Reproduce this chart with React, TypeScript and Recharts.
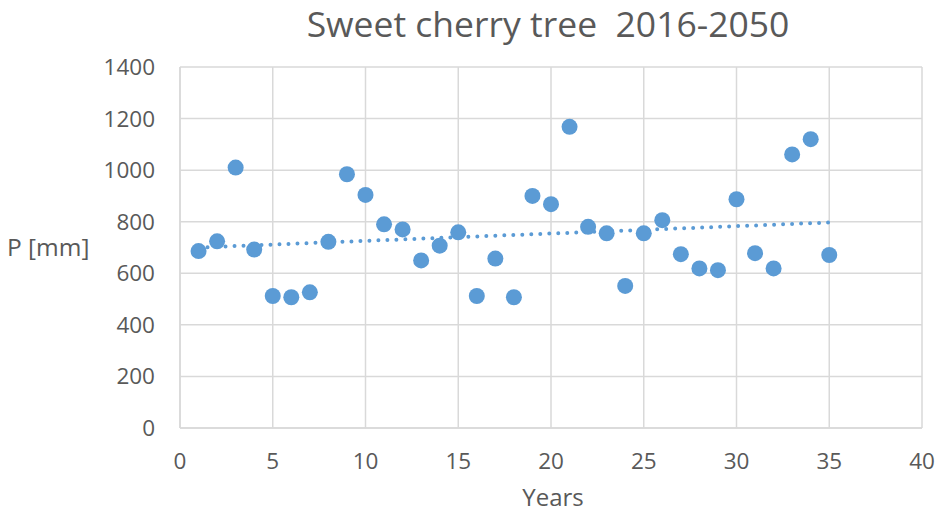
import React from 'react';
import { ScatterChart, Scatter, XAxis, YAxis, CartesianGrid } from 'recharts';

const years: number[] = [1,2,3,4,5,6,7,8,9,10,11,12,13,14,15,16,17,18,19,20,21,22,23,24,25,26,27,28,29,30,31,32,33,34,35];
const precipitation: number[] = [686,724,1010,692,512,507,526,722,984,904,790,770,650,707,759,512,657,507,900,868,1168,780,755,551,755,806,674,619,612,887,678,619,1061,1120,671];
const trendYears: number[] = [1, 35];
const trendValues: number[] = [700, 797];
const xTicks: number[] = [0,5,10,15,20,25,30,35,40];
const yTicks: number[] = [0,200,400,600,800,1000,1200,1400];

const points = years.map((x, i) => ({ x, y: precipitation[i] }));
const trend = trendYears.map((x, i) => ({ x, y: trendValues[i] }));

const BLUE = '#5B9BD5';
const TEXT = '#595959';
const FONT = '"Open Sans", sans-serif';

const Dot = (props: any) => <circle cx={props.cx} cy={props.cy} r={8} fill={BLUE} />;

export default function App() {
  return (
    <div style={{ position: 'absolute', left: 0, top: 0, width: 945, height: 516, background: '#fff', fontFamily: FONT, overflow: 'hidden' }}>
      <ScatterChart width={945} height={516} margin={{ top: 67, right: 23, left: 100, bottom: 48 }}>
        <CartesianGrid stroke="#D9D9D9" strokeWidth={1.5} />
        <XAxis
          type="number"
          dataKey="x"
          domain={[0, 40]}
          ticks={xTicks}
          height={40}
          stroke="#D9D9D9"
          strokeWidth={1.5}
          tickLine={false}
          tickSize={0}
          tickMargin={25}
          tick={{ fill: TEXT, fontSize: 22.5, fontFamily: FONT }}
          allowDataOverflow
        />
        <YAxis
          type="number"
          dataKey="y"
          domain={[0, 1400]}
          ticks={yTicks}
          width={80}
          stroke="#D9D9D9"
          strokeWidth={1.5}
          tickLine={false}
          tickSize={0}
          tickMargin={25}
          tick={{ fill: TEXT, fontSize: 22.5, fontFamily: FONT }}
          allowDataOverflow
        />
        <Scatter
          data={trend}
          isAnimationActive={false}
          line={{ stroke: BLUE, strokeWidth: 4, strokeDasharray: '0 9', strokeLinecap: 'round' } as any}
          shape={() => <g />}
        />
        <Scatter data={points} isAnimationActive={false} shape={Dot} />
      </ScatterChart>
      <div style={{ position: 'absolute', left: 0, width: 1096, top: 1, textAlign: 'center', fontSize: 35.5, color: TEXT, lineHeight: '44px', whiteSpace: 'nowrap' }}>
        Sweet cherry tree&nbsp; 2016-2050
      </div>
      <div style={{ position: 'absolute', left: 7, top: 231, fontSize: 24.5, color: TEXT, lineHeight: '32px', whiteSpace: 'nowrap' }}>
        P [mm]
      </div>
      <div style={{ position: 'absolute', left: 182, width: 742, top: 484, textAlign: 'center', fontSize: 24, color: TEXT, lineHeight: '26px' }}>
        Years
      </div>
    </div>
  );
}
